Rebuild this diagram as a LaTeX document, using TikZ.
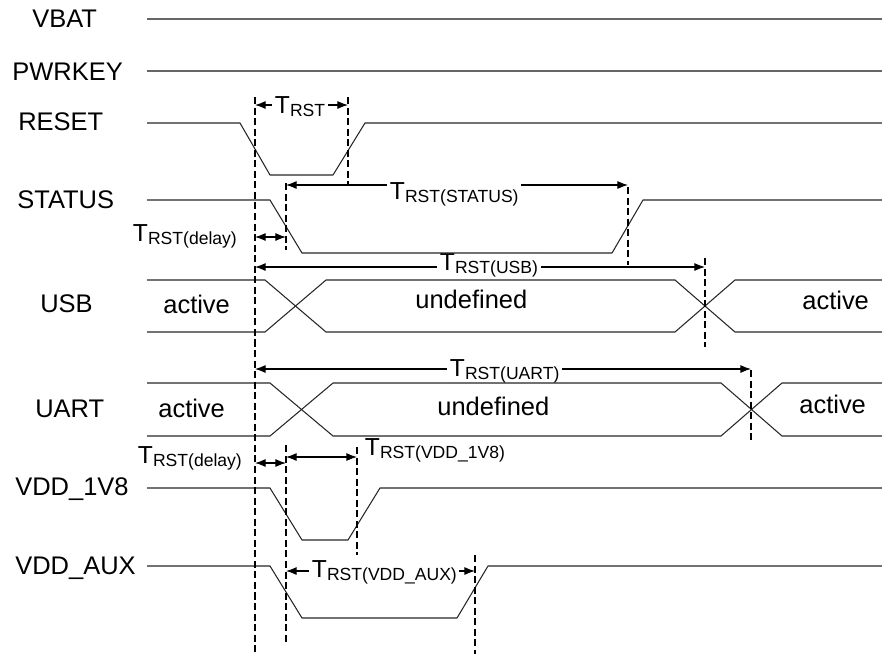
\documentclass[tikz,border=0pt]{standalone}
\usepackage{fontspec}
\setmainfont{Liberation Sans}
\usetikzlibrary{arrows.meta}
\newcommand{\trst}[1]{T\raisebox{-2pt}{\fontsize{10}{12}\selectfont RST#1}}

\begin{document}
\begin{tikzpicture}[x=0.02cm, y=-0.02cm,
      sig/.style = {black!85, line width=0.6pt, line join=round},
      rail/.style = {black!60, line width=0.9pt},
      vline/.style = {black, line width=0.6pt, dash pattern=on 4pt off 2pt},
      dim/.style = {black, line width=0.6pt,
        {Latex[length=6pt,width=4.5pt]}-{Latex[length=6pt,width=4.5pt]}},
      signame/.style = {anchor=base west, inner sep=0pt,
        font=\fontsize{14.5}{17}\selectfont},
      tlab/.style = {anchor=base west, inner sep=1.5pt, fill=white,
        font=\fontsize{14}{17}\selectfont}]
    \useasboundingbox (0,0) rectangle (882,654);

    % signal names
    \node[signame] (vbat) at (32,27) {VBAT};
    \node[signame] (pwrkey) at (12,80) {PWRKEY};
    \node[signame] (reset) at (18,130) {RESET};
    \node[signame] (status) at (17,208) {STATUS};
    \node[signame] (usb) at (40,312) {USB};
    \node[signame] (uart) at (35,417) {UART};
    \node[signame] (vdd18) at (15,495) {VDD\_1V8};
    \node[signame] (vddaux) at (15,574) {VDD\_AUX};

    % bus states
    \node[signame] (usbact1) at (163,313) {active};
    \node[signame] (usbund) at (415,308) {undefined};
    \node[signame] (usbact2) at (802,309) {active};
    \node[signame] (uartact1) at (158,417) {active};
    \node[signame] (uartund) at (437,415) {undefined};
    \node[signame] (uartact2) at (799,413) {active};

    % timing arrows
    \draw[dim] (255,105) -- (348,105);
    \draw[dim] (286,185) -- (628,185);
    \draw[dim] (255,237) -- (286,237);
    \draw[dim] (255,267) -- (705,267);
    \draw[dim] (255,369) -- (751,369);
    \draw[dim] (255,463) -- (286,463);
    \draw[dim] (286,457) -- (357,457);
    \draw[dim] (286,571) -- (475,571);

    % timing labels
    \node[tlab] (trst) at (272,113) {\trst{}};
    \node[tlab] (tstatus) at (387,199) {\trst{(STATUS)}};
    \node[tlab] (tdelay1) at (130,241) {\trst{(delay)}};
    \node[tlab] (tusb) at (437,270) {\trst{(USB)}};
    \node[tlab] (tuart) at (447,376) {\trst{(UART)}};
    \node[tlab] (tdelay2) at (135,463) {\trst{(delay)}};
    \node[tlab] (tvdd18) at (362,455) {\trst{(VDD\_1V8)}};
    \node[tlab] (tvddaux) at (309,577) {\trst{(VDD\_AUX)}};

    % waveforms
    \draw[rail] (147,19) -- (882,19);
    \draw[rail] (147,71) -- (882,71);
    \draw[sig] (147,123) -- (240,123) -- (270,175) -- (333,175) -- (365,123) -- (882,123);
    \draw[sig] (147,200) -- (270,200) -- (302,253) -- (612,253) -- (643,200) -- (882,200);
    \draw[sig] (147,280) -- (265,280) -- (326,332) -- (675,332) -- (735,280) -- (882,280);
    \draw[sig] (147,332) -- (265,332) -- (326,280) -- (675,280) -- (735,332) -- (882,332);
    \draw[sig] (147,383) -- (270,383) -- (333,436) -- (721,436) -- (782,383) -- (882,383);
    \draw[sig] (147,436) -- (270,436) -- (333,383) -- (721,383) -- (782,436) -- (882,436);
    \draw[sig] (147,488) -- (270,488) -- (302,540) -- (348,540) -- (380,488) -- (882,488);
    \draw[sig] (147,566) -- (270,566) -- (302,618) -- (457,618) -- (488,566) -- (882,566);

    % dashed markers
    \draw[vline] (255,97) -- (255,654);
    \draw[vline] (348,97) -- (348,185);
    \draw[vline] (286,183) -- (286,250);
    \draw[vline] (628,187) -- (628,265);
    \draw[vline] (705,258) -- (705,347);
    \draw[vline] (751,370) -- (751,440);
    \draw[vline] (357,447) -- (357,555);
    \draw[vline] (286,445) -- (286,645);
    \draw[vline] (475,555) -- (475,654);

  \end{tikzpicture}
\end{document}
